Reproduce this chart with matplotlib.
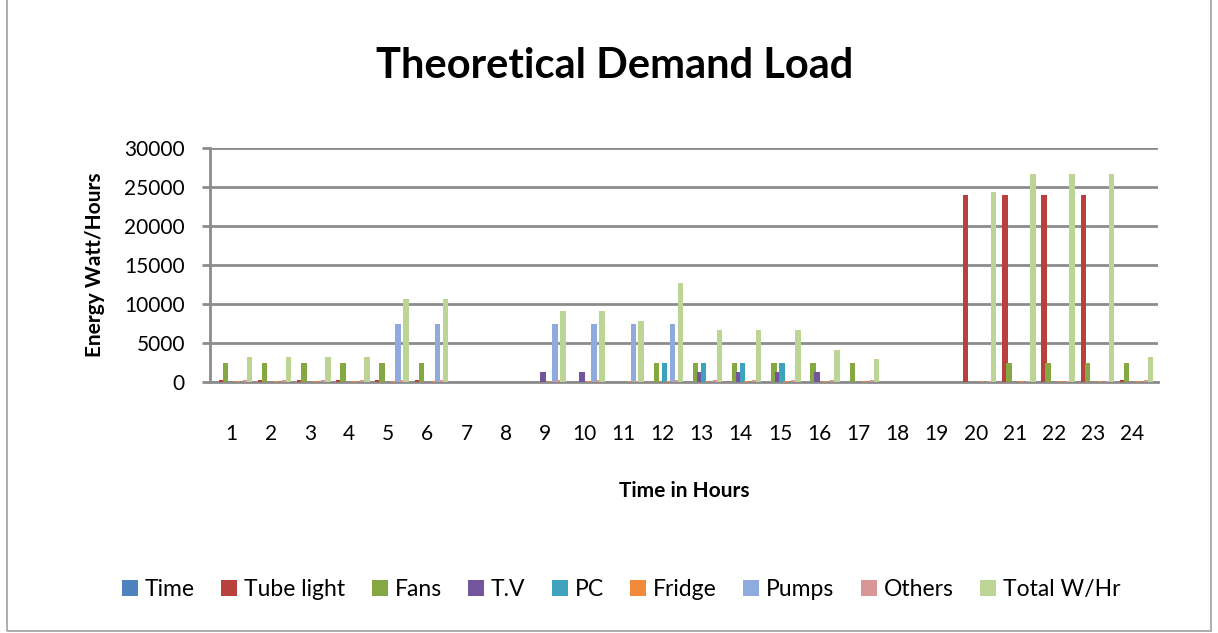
import numpy as np
import matplotlib
matplotlib.use("Agg")
import matplotlib.pyplot as plt
from matplotlib.patches import Rectangle

plt.rcParams['font.family'] = ['Lato', 'DejaVu Sans']

# --- data ---
hours = [str(h) for h in range(1, 25)]
time_vals = [1, 2, 3, 4, 5, 6, 7, 8, 9, 10, 11, 12,
             13, 14, 15, 16, 17, 18, 19, 20, 21, 22, 23, 24]
tube_light = [250, 250, 250, 250, 250, 250, 0, 0, 0, 0, 0, 0,
              0, 0, 0, 0, 0, 0, 0, 24000, 24000, 24000, 24000, 250]
fans = [2500, 2500, 2500, 2500, 2500, 2500, 0, 0, 0, 0, 0, 2500,
        2500, 2500, 2500, 2500, 2500, 0, 0, 0, 2500, 2500, 2500, 2500]
tv = [0, 0, 0, 0, 0, 0, 0, 0, 1300, 1300, 0, 0,
      1300, 1300, 1300, 1300, 0, 0, 0, 0, 0, 0, 0, 0]
pc = [0, 0, 0, 0, 0, 0, 0, 0, 0, 0, 0, 2500,
      2500, 2500, 2500, 0, 0, 0, 0, 0, 0, 0, 0, 0]
fridge = [150, 150, 150, 150, 150, 150, 0, 0, 150, 150, 150, 150,
          150, 150, 150, 150, 150, 0, 0, 150, 150, 150, 150, 150]
pumps = [0, 0, 0, 0, 7500, 7500, 0, 0, 7500, 7500, 7500, 7500,
         0, 0, 0, 0, 0, 0, 0, 0, 0, 0, 0, 0]
others = [300, 300, 300, 300, 300, 300, 0, 0, 300, 300, 150, 300,
          300, 300, 300, 300, 250, 0, 0, 150, 150, 150, 150, 300]
total = [3200, 3200, 3200, 3200, 10700, 10700, 0, 0, 9100, 9100, 7800, 12700,
         6700, 6700, 6700, 4100, 2900, 0, 0, 24300, 26700, 26700, 26700, 3200]

series = [
    ("Time", time_vals, "#4F81BD"),
    ("Tube light", tube_light, "#B8413E"),
    ("Fans", fans, "#86A843"),
    ("T.V", tv, "#72559A"),
    ("PC", pc, "#3EA2BC"),
    ("Fridge", fridge, "#F08A3A"),
    ("Pumps", pumps, "#8FAADC"),
    ("Others", others, "#D99694"),
    ("Total W/Hr", total, "#BCD494"),
]

fig = plt.figure(figsize=(12.18, 6.33), dpi=100)
ax = fig.add_axes([0.1724, 0.3965, 0.7783, 0.3697])

x = np.arange(len(hours))
w = 0.102
for i, (name, vals, col) in enumerate(series):
    ax.bar(x + (i - 4) * w + 0.05, vals, width=w * 1.35, color=col,
           linewidth=0, label=name, zorder=3)

ax.set_xlim(-0.55, 23.65)
ax.set_ylim(0, 30000)
ax.set_yticks(range(0, 30001, 5000))
ax.set_xticks(x)
ax.set_xticklabels(hours)
ax.tick_params(axis='x', length=0, pad=30, labelsize=15)
ax.tick_params(axis='y', length=6, width=2, color="#8C8C8C", pad=12, labelsize=15)
ax.grid(axis='y', color="#8C8C8C", linewidth=2, zorder=0)
for s in ["top", "right"]:
    ax.spines[s].set_visible(False)
for s in ["left", "bottom"]:
    ax.spines[s].set_color("#8C8C8C")
    ax.spines[s].set_linewidth(2)

ax.set_ylabel("Energy Watt/Hours", fontsize=15, fontweight="bold", labelpad=14)
ax.set_xlabel("Time in Hours", fontsize=15, fontweight="bold", labelpad=27)
fig.text(0.505, 0.895, "Theoretical Demand Load", ha="center", va="center",
         fontsize=30, fontweight="bold")

fig.legend(loc="center", bbox_to_anchor=(0.51, 0.068), ncol=9, frameon=False,
           fontsize=16.5, handlelength=0.7, handleheight=0.7, handletextpad=0.3,
           columnspacing=1.15)

fig.patches.append(Rectangle((0.006, 0.003), 0.988, 1.2, transform=fig.transFigure,
                             fill=False, edgecolor="#A0A0A0", linewidth=1.2))

fig.savefig("out.png", dpi=100)
